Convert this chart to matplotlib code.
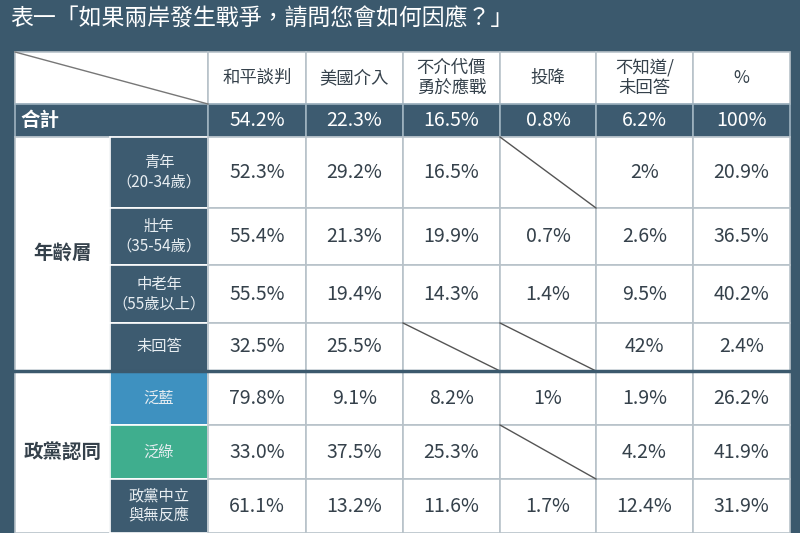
import matplotlib
matplotlib.use("Agg")
import matplotlib.pyplot as plt
from matplotlib.patches import Rectangle

plt.rcParams["font.family"] = "Noto Sans CJK TC"

title = "表一「如果兩岸發生戰爭，請問您會如何因應？」"
columns = ["和平談判", "美國介入", "不介代價\n勇於應戰", "投降", "不知道/\n未回答", "%"]
total_label = "合計"
total_values = ["54.2%", "22.3%", "16.5%", "0.8%", "6.2%", "100%"]
age_group = "年齡層"
age_rows = ["青年\n（20-34歲）", "壯年\n（35-54歲）", "中老年\n（55歲以上）", "未回答"]
age_values = [
    ["52.3%", "29.2%", "16.5%", None, "2%", "20.9%"],
    ["55.4%", "21.3%", "19.9%", "0.7%", "2.6%", "36.5%"],
    ["55.5%", "19.4%", "14.3%", "1.4%", "9.5%", "40.2%"],
    ["32.5%", "25.5%", None, None, "42%", "2.4%"],
]
party_group = "政黨認同"
party_rows = ["泛藍", "泛綠", "政黨中立\n與無反應"]
party_values = [
    ["79.8%", "9.1%", "8.2%", "1%", "1.9%", "26.2%"],
    ["33.0%", "37.5%", "25.3%", None, "4.2%", "41.9%"],
    ["61.1%", "13.2%", "11.6%", "1.7%", "12.4%", "31.9%"],
]

BG = "#3b596d"
DARK = "#3d5b70"
BLUE = "#3e91c0"
GREEN = "#3fae8e"
TXT = "#35414b"
GRID = "#b8c2c9"

fig = plt.figure(figsize=(8, 5.33), dpi=100)
fig.patch.set_facecolor(BG)
ax = fig.add_axes([0, 0, 1, 1])
ax.set_xlim(0, 800)
ax.set_ylim(533, 0)
ax.axis("off")

xs = [15, 110, 208, 306, 403, 500, 596, 693, 790]
age_y = [137, 208, 265, 323, 371]
party_y = [371, 425, 479, 533]

def cell(x0, x1, y0, y1, fc, ec=GRID, lw=1.2):
    ax.add_patch(Rectangle((x0, y0), x1 - x0, y1 - y0, facecolor=fc, edgecolor=ec, lw=lw))

def diag(x0, x1, y0, y1, c="#555"):
    ax.plot([x0, x1], [y0, y1], color=c, lw=1)

ax.text(10, 19, title, color="white", fontsize=16.5, va="center", ha="left")

cell(xs[0], xs[2], 52, 104, "white")
diag(xs[0], xs[2], 52, 104, "#777")
for i, c in enumerate(columns):
    cell(xs[i + 2], xs[i + 3], 52, 104, "white")
    ax.text((xs[i + 2] + xs[i + 3]) / 2, 78, c, ha="center", va="center",
            fontsize=12.5, color=TXT, fontweight="medium", linespacing=1.1)

cell(xs[0], xs[2], 104, 137, DARK, ec="#9fb3c0")
ax.text(20, 120, total_label, color="white", fontsize=14, fontweight="bold", va="center")
for i, v in enumerate(total_values):
    cell(xs[i + 2], xs[i + 3], 104, 137, DARK, ec="#9fb3c0")
    ax.text((xs[i + 2] + xs[i + 3]) / 2, 121, v, ha="center", va="center", fontsize=14, color="white")

def block(group, rows, values, ys, fills):
    cell(xs[0], xs[1], ys[0], ys[-1], "white")
    ax.text((xs[0] + xs[1]) / 2, (ys[0] + ys[-1]) / 2, group, ha="center", va="center",
            fontsize=14, color=TXT, fontweight="bold")
    for r, (lab, vals) in enumerate(zip(rows, values)):
        y0, y1 = ys[r], ys[r + 1]
        cell(xs[1], xs[2], y0, y1, fills[r], ec="white")
        ax.text((xs[1] + xs[2]) / 2, (y0 + y1) / 2, lab, ha="center", va="center",
                fontsize=11, color="#e8eef2", linespacing=1.2)
        for i, v in enumerate(vals):
            cell(xs[i + 2], xs[i + 3], y0, y1, "white")
            if v is None:
                diag(xs[i + 2], xs[i + 3], y0, y1)
            else:
                ax.text((xs[i + 2] + xs[i + 3]) / 2, (y0 + y1) / 2, v, ha="center",
                        va="center", fontsize=14, color=TXT)

block(age_group, age_rows, age_values, age_y, [DARK] * 4)
block(party_group, party_rows, party_values, party_y, [BLUE, GREEN, DARK])
ax.plot([xs[0], xs[-1]], [371, 371], color=BG, lw=2.5)

fig.savefig("out.png", dpi=100, facecolor=BG)
